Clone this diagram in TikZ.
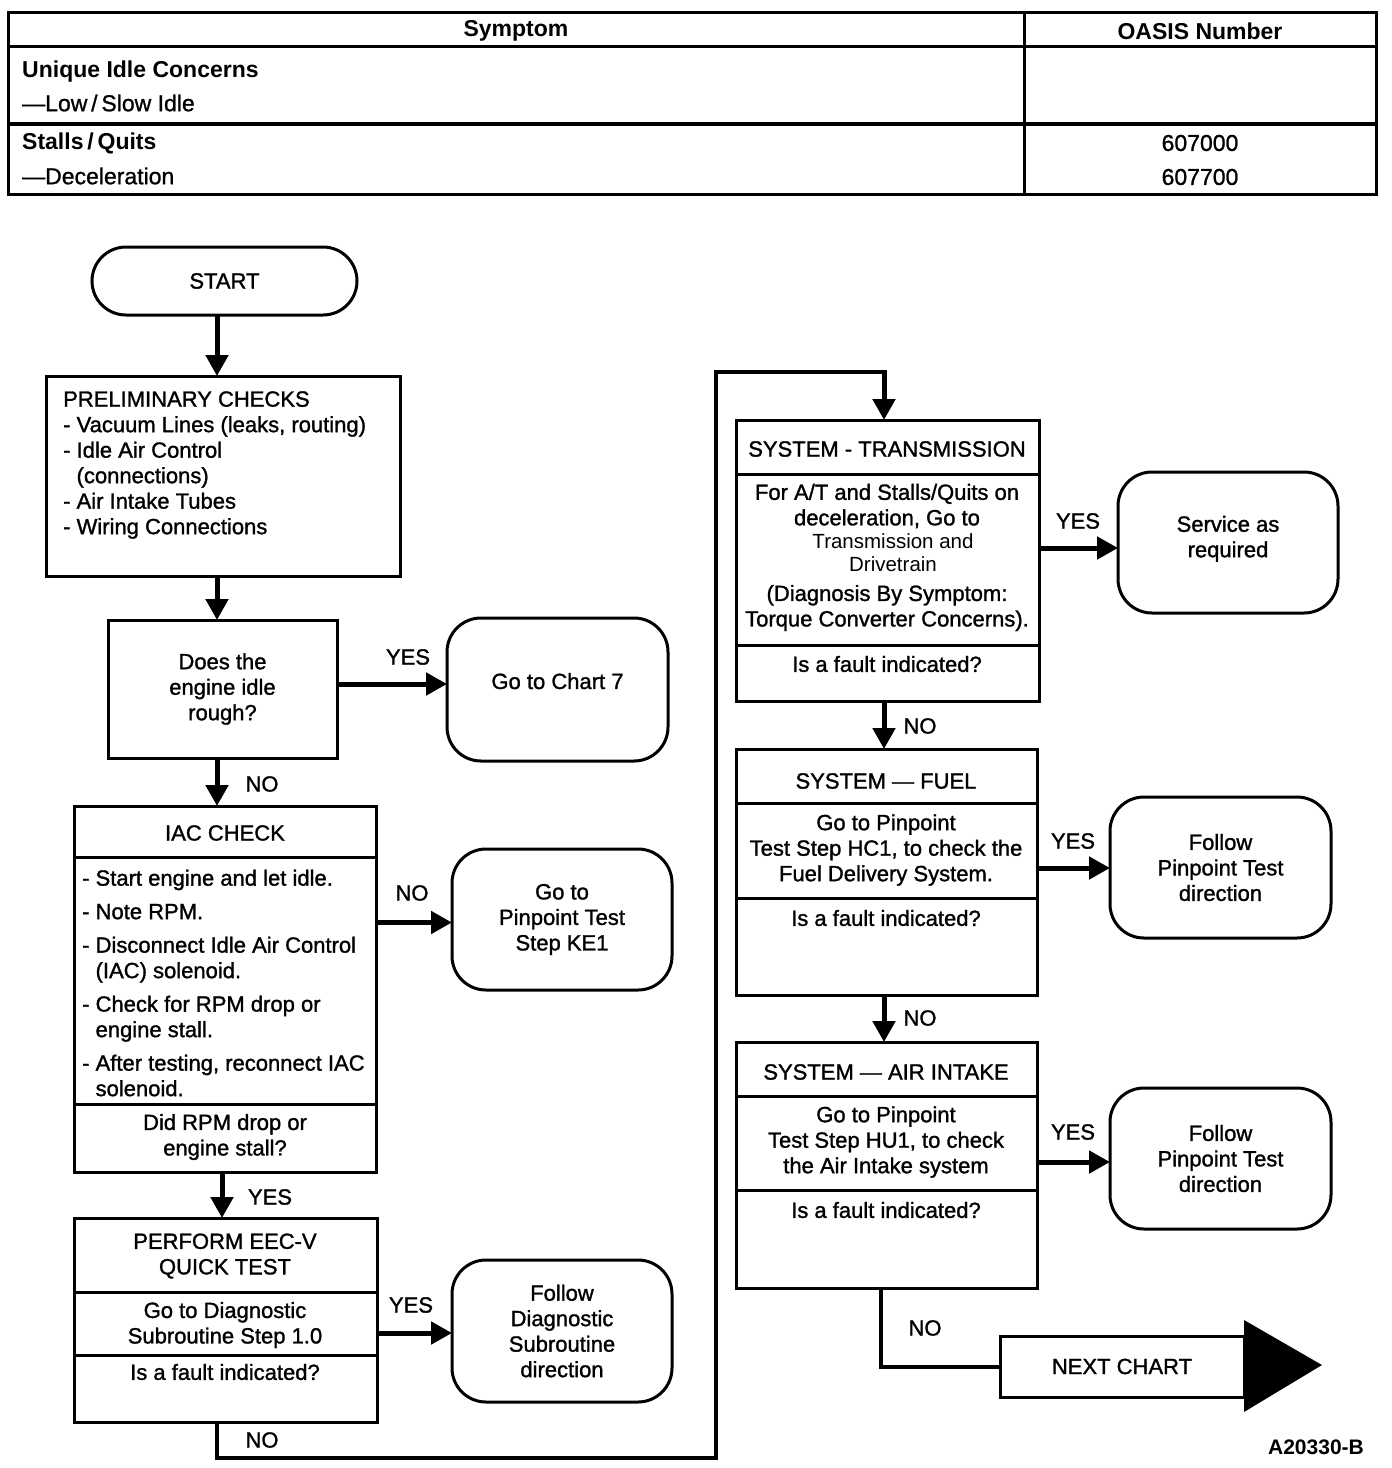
\documentclass[tikz,border=0pt]{standalone}
\usepackage{fontspec}
\setmainfont{Liberation Sans}
\usetikzlibrary{arrows.meta}
\newcommand\flowfs{\fontsize{22}{25.5}\selectfont\addfontfeature{FakeBold=1.3}}
\newcommand\tabfs{\fontsize{23}{27}\selectfont\addfontfeature{FakeBold=1}}
\newcommand\tabbfs{\fontsize{23}{27}\selectfont\bfseries}
\newcommand\smallfs{\fontsize{20.5}{23}\selectfont}
\begin{document}
\begin{tikzpicture}[x=1pt,y=-1pt,
  box/.style={draw, line width=3pt, anchor=north west, inner sep=0pt, outer sep=0pt},
  rbox/.style={box, rounded corners=34pt, font=\flowfs, align=center},
  txt/.style={inner sep=0pt, font=\flowfs, align=center},
  ltxt/.style={inner sep=0pt, font=\flowfs, align=left, anchor=west},
  lab/.style={inner sep=0pt, font=\flowfs},
  tabb/.style={inner sep=0pt, font=\tabbfs},
  tabr/.style={inner sep=0pt, font=\tabfs},
  arr/.style={line width=5pt, -{Triangle[length=21pt,width=22pt]}},
  loopline/.style={line width=4pt, line join=miter},
  sepline/.style={line width=3pt},
]
\useasboundingbox (0,0) rectangle (1392,1468);

% ---------------- table ----------------
\draw[line width=3pt] (8,12) rectangle (1376,194);
\draw[line width=3pt] (8,46) -- (1376,46);
\draw[line width=4pt] (8,124) -- (1376,124);
\draw[line width=3pt] (1024,12) -- (1024,194);
\node[tabb] (hsym) at (516,31) {Symptom};
\node[tabb] (hoasis) at (1200,31) {OASIS Number};
\node[tabb, anchor=west] (r1a) at (22,72) {Unique Idle Concerns};
\node[tabr, anchor=west] (r1b) at (22,103) {---Low\,/\,Slow Idle};
\node[tabb, anchor=west] (r2a) at (22,143) {Stalls\,/\,Quits};
\node[tabr, anchor=west] (r2b) at (22,176) {---Deceleration};
\node[tabr] (num1) at (1200,143) {607000};
\node[tabr] (num2) at (1200,177) {607700};

% ---------------- left column ----------------
\node[rbox, minimum width=265pt, minimum height=68pt] (start) at (92,247) {START};

\node[box, minimum width=354pt, minimum height=200pt] (prelim) at (46,376) {};
\node[ltxt] (prelimtxt) at (63,465) {PRELIMINARY CHECKS\\
- Vacuum Lines (leaks, routing)\\
- Idle Air Control\\
\phantom{- }(connections)\\
- Air Intake Tubes\\
- Wiring Connections};

\node[box, minimum width=229pt, minimum height=138pt, font=\flowfs, align=center] (does) at (108,620) {Does the\\engine idle\\rough?};

\node[rbox, minimum width=221pt, minimum height=143pt] (chart7) at (447,618) {Go to Chart 7\\[-8.5pt]};

\node[box, minimum width=302pt, minimum height=366pt] (iac) at (74,806) {};
\draw[sepline] (74,857) -- (376,857);
\draw[sepline] (74,1104) -- (376,1104);
\node[txt] (iachead) at (225,833) {IAC CHECK};
\node[ltxt] (iaclist) at (82,983) {- Start engine and let idle.\\[8pt]
- Note RPM.\\[8pt]
- Disconnect Idle Air Control\\
\phantom{- }(IAC) solenoid.\\[8pt]
- Check for RPM drop or\\
\phantom{- }engine stall.\\[8pt]
- After testing, reconnect IAC\\
\phantom{- }solenoid.};
\node[txt] (iacq) at (225,1137) {Did RPM drop or\\engine stall?};

\node[rbox, minimum width=220pt, minimum height=141pt] (ke1) at (452,849) {Go to\\Pinpoint Test\\Step KE1};

\node[box, minimum width=303pt, minimum height=204pt] (perf) at (74,1218) {};
\draw[sepline] (74,1292) -- (377,1292);
\draw[sepline] (74,1355) -- (377,1355);
\node[txt] (perfhead) at (225,1256) {PERFORM EEC-V\\QUICK TEST};
\node[txt] (perfbody) at (225,1325) {Go to Diagnostic\\Subroutine Step 1.0};
\node[txt] (perfq) at (225,1372) {Is a fault indicated?};

\node[rbox, minimum width=220pt, minimum height=142pt] (diag) at (452,1260) {Follow\\Diagnostic\\Subroutine\\direction};

% ---------------- right column ----------------
\node[box, minimum width=303pt, minimum height=281pt] (trans) at (736,420) {};
\draw[sepline] (736,474) -- (1039,474);
\draw[sepline] (736,645) -- (1039,645);
\node[txt] (transhead) at (887,449) {SYSTEM - TRANSMISSION};
\node[txt] (transb1) at (887,506) {For A/T and Stalls/Quits on\\deceleration, Go to};
\node[inner sep=0pt, font=\smallfs, align=center] (transb2) at (893,553) {Transmission and\\Drivetrain};
\node[txt] (transb3) at (887,608) {(Diagnosis By Symptom:\\Torque Converter Concerns).};
\node[txt] (transq) at (887,664) {Is a fault indicated?};

\node[rbox, minimum width=220pt, minimum height=141pt] (service) at (1118,472) {Service as\\required\\[-13.5pt]};

\node[box, minimum width=301pt, minimum height=246pt] (fuel) at (736,749) {};
\draw[sepline] (736,803) -- (1037,803);
\draw[sepline] (736,898) -- (1037,898);
\node[txt] (fuelhead) at (886,781) {SYSTEM --- FUEL};
\node[txt] (fuelbody) at (886,850) {Go to Pinpoint\\Test Step HC1, to check the\\Fuel Delivery System.};
\node[txt] (fuelq) at (886,918) {Is a fault indicated?};

\node[rbox, minimum width=221pt, minimum height=141pt] (follow1) at (1110,797) {Follow\\Pinpoint Test\\direction};

\node[box, minimum width=301pt, minimum height=246pt] (air) at (736,1042) {};
\draw[sepline] (736,1096) -- (1037,1096);
\draw[sepline] (736,1190) -- (1037,1190);
\node[txt] (airhead) at (886,1072) {SYSTEM --- AIR INTAKE};
\node[txt] (airbody) at (886,1142) {Go to Pinpoint\\Test Step HU1, to check\\the Air Intake system};
\node[txt] (airq) at (886,1210) {Is a fault indicated?};

\node[rbox, minimum width=221pt, minimum height=141pt] (follow2) at (1110,1088) {Follow\\Pinpoint Test\\direction};

\node[box, minimum width=244pt, minimum height=61pt, font=\flowfs] (next) at (1000,1336) {NEXT CHART};
\fill (1244,1320) -- (1322,1365) -- (1244,1412) -- cycle;

\node[inner sep=0pt, font=\fontsize{21}{24}\selectfont\bfseries] (code) at (1316,1447) {A20330-B};

% ---------------- connectors ----------------
\coordinate (s1) at ([xshift=-7.5pt]start.south);
\draw[arr] (s1) -- (s1 |- prelim.north);
\coordinate (p1) at ([xshift=-6pt]prelim.south);
\draw[arr] (p1) -- (p1 |- does.north);
\coordinate (d1) at ([yshift=5pt]does.east);
\draw[arr] (d1) -- (d1 -| chart7.west);
\node[lab] (yes1) at (408,657) {YES};
\coordinate (d2) at ([xshift=-5.5pt]does.south);
\draw[arr] (d2) -- (d2 |- iac.north);
\node[lab] (no1) at (262,784) {NO};

\coordinate (i1) at ([yshift=-3pt]iac.east |- ke1.west);
\draw[arr] (i1) -- (i1 -| ke1.west);
\node[lab] (no2) at (412,893) {NO};
\coordinate (i2) at ([xshift=-3pt]iac.south);
\draw[arr] (i2) -- (i2 |- perf.north);
\node[lab] (yes2) at (270,1197) {YES};

\coordinate (e1) at (perf.east |- 0,1333);
\draw[arr] (e1) -- (e1 -| diag.west);
\node[lab] (yes3) at (411,1305) {YES};

\coordinate (l1) at ([xshift=-8.5pt]perf.south);
\coordinate (l2) at (716,1458);
\coordinate (l3) at (716,372);
\coordinate (l4) at ([xshift=-3.5pt]trans.north);
\draw[loopline] (l1) -- (l1 |- l2) -- (l2) -- (l3) -- (l3 -| l4);
\draw[arr] ([yshift=2pt]l3 -| l4) -- (l4);
\node[lab] (no3) at (262,1440) {NO};

\coordinate (t1) at (trans.east |- 0,548);
\draw[arr] (t1) -- (t1 -| service.west);
\node[lab] (yes4) at (1078,521) {YES};
\coordinate (t2) at ([xshift=-3.5pt]trans.south);
\draw[arr] (t2) -- (t2 |- fuel.north);
\node[lab] (no4) at (920,726) {NO};

\coordinate (f1) at (fuel.east |- 0,868);
\draw[arr] (f1) -- (f1 -| follow1.west);
\node[lab] (yes5) at (1073,841) {YES};
\coordinate (f2) at ([xshift=-2.5pt]fuel.south);
\draw[arr] (f2) -- (f2 |- air.north);
\node[lab] (no5) at (920,1018) {NO};

\coordinate (a1) at (air.east |- 0,1162);
\draw[arr] (a1) -- (a1 -| follow2.west);
\node[lab] (yes6) at (1073,1132) {YES};
\coordinate (a2) at ([xshift=-5.5pt]air.south);
\draw[loopline] (a2) -- (a2 |- next.west) -- (next.west);
\node[lab] (no6) at (925,1328) {NO};
\end{tikzpicture}
\end{document}
